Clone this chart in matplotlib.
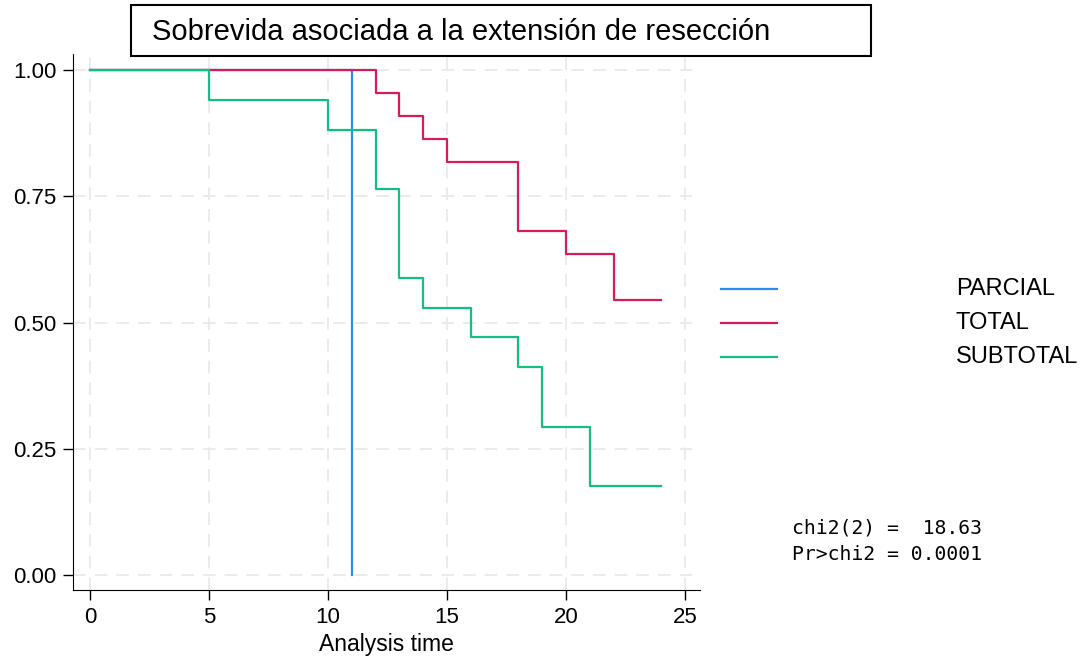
import matplotlib.pyplot as plt

plt.rcParams['font.family'] = ['Liberation Sans', 'DejaVu Sans']

# Kaplan-Meier step data (time, survival)
t_total = [0, 12, 13, 14, 15, 18, 20, 22, 24]
s_total = [1.0, 0.955, 0.909, 0.864, 0.818, 0.682, 0.636, 0.545, 0.545]
t_subtotal = [0, 5, 10, 12, 13, 14, 16, 18, 19, 21, 24]
s_subtotal = [1.0, 0.941, 0.882, 0.765, 0.588, 0.529, 0.471, 0.412, 0.294, 0.176, 0.176]
t_parcial = [0, 11]
s_parcial = [1.0, 0.0]

labels = ["PARCIAL", "TOTAL", "SUBTOTAL"]
colors = ["#2b8cf0", "#d81b5c", "#12bf7f"]
xticks = [0, 5, 10, 15, 20, 25]
yticks = [0, 0.25, 0.5, 0.75, 1.0]

W, H = 1085, 663
fig = plt.figure(figsize=(W / 100, H / 100), dpi=100)
ax = fig.add_axes([73 / W, (H - 590) / H, 627 / W, 536 / H])

ax.step(t_parcial, s_parcial, where="post", color=colors[0], lw=1.6, zorder=2)
ax.step(t_total, s_total, where="post", color=colors[1], lw=1.6, zorder=3)
ax.step(t_subtotal, s_subtotal, where="post", color=colors[2], lw=1.6, zorder=4)

ax.set_xlim(-0.714, 25.63)
ax.set_ylim(-0.0297, 1.0317)
ax.set_xticks(xticks)
ax.set_yticks(yticks)
ax.set_yticklabels(["%.2f" % v for v in yticks])
ax.tick_params(labelsize=16, length=7, width=1, pad=5)
ax.grid(True, color="#e9e9e9", linestyle=(0, (7, 5)), lw=1.3)
ax.set_axisbelow(True)
ax.spines['right'].set_visible(False)
ax.spines['top'].set_visible(False)
ax.set_xlabel("Analysis time", fontsize=16.5, labelpad=4)

# legend drawn stata-style: keys with a wide gap to labels
for i, (lab, col) in enumerate(zip(labels, colors)):
    y = 1 - (289 + 34 * i) / H
    fig.add_artist(plt.Line2D([721 / W, 777 / W], [y, y], color=col, lw=1.6))
    fig.text(956 / W, y, lab, fontsize=17, va="center", ha="left")

fig.text(792 / W, 1 - 528 / H, "chi2(2) =  18.63", family="DejaVu Sans Mono",
         fontsize=14.2, va="center", ha="left")
fig.text(792 / W, 1 - 555 / H, "Pr>chi2 = 0.0001", family="DejaVu Sans Mono",
         fontsize=14.2, va="center", ha="left")

fig.text(152 / W, 1 - 32 / H, "Sobrevida asociada a la extensión de resección",
         fontsize=21, va="center", ha="left")
fig.add_artist(plt.Rectangle((131 / W, 1 - 56 / H), 740 / W, 51 / H,
                             fill=False, edgecolor="black", lw=1.5, transform=fig.transFigure))

plt.savefig("out.png", dpi=100)
